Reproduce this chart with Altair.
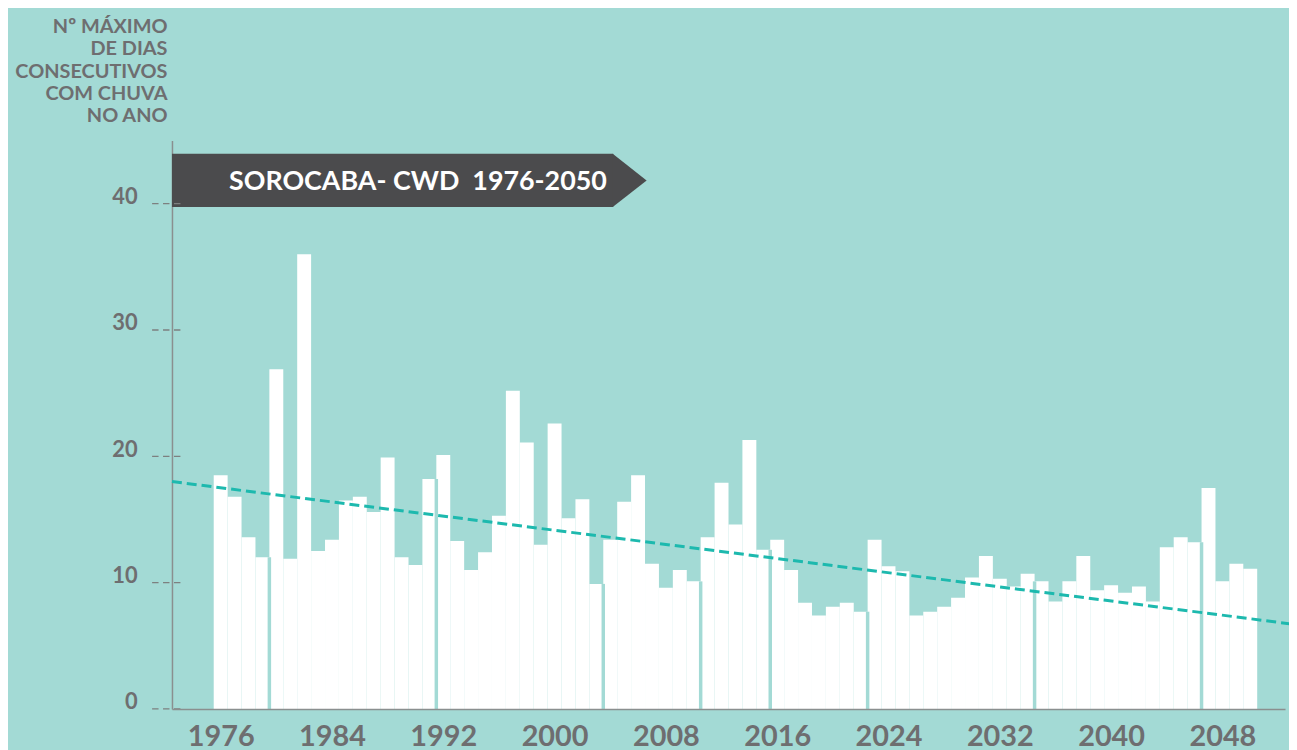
import altair as alt
import pandas as pd

# ---------------- data ----------------
years = list(range(1976, 2051))
cwd_days = [18.5, 16.8, 13.6, 12.0, 26.9, 11.9, 36.0, 12.5, 13.4, 16.5,
            16.8, 15.6, 19.9, 12.0, 11.4, 18.2, 20.1, 13.3, 11.0, 12.4,
            15.3, 25.2, 21.1, 13.0, 22.6, 15.1, 16.6, 9.9, 13.4, 16.4,
            18.5, 11.5, 9.6, 11.0, 10.1, 13.6, 17.9, 14.6, 21.3, 12.6,
            13.4, 11.0, 8.4, 7.4, 8.1, 8.4, 7.7, 13.4, 11.3, 10.9,
            7.4, 7.7, 8.1, 8.8, 10.4, 12.1, 10.3, 9.7, 10.7, 10.1,
            8.5, 10.1, 12.1, 9.4, 9.8, 9.2, 9.7, 8.5, 12.8, 13.6,
            13.2, 17.5, 10.1, 11.5, 11.1]
# thin separators visible between some bars in the reference
gap_after_years = [1979, 1991, 2003, 2010, 2015, 2022, 2034, 2046]
# dashed linear trend (end points)
trend_years = [1972.5, 2052.8]
trend_values = [18.0, 6.75]
y_tick_values = [0, 10, 20, 30, 40]
x_tick_values = [1976, 1984, 1992, 2000, 2008, 2016, 2024, 2032, 2040, 2048]
banner_text = "SOROCABA- CWD\u00a0 1976-2050"
y_title_lines = ["Nº MÁXIMO", "DE DIAS", "CONSECUTIVOS", "COM CHUVA", "NO ANO"]

# ---------------- styling ----------------
BG = "#a3dad5"
GRAY_TEXT = "#6e6e70"
AXIS_GRAY = "#8a8f8f"
TREND = "#1db9ae"
BANNER = "#4b4b4d"
FONT = "Lato"

df = pd.DataFrame({"year": years, "cwd": cwd_days})
df["x0"] = df["year"] - 0.5
df["x1"] = df["year"] + 0.5

lookup = dict(zip(years, cwd_days))
gaps = pd.DataFrame({
    "x0": [g + 0.5 for g in gap_after_years],
    "cwd": [min(lookup[g], lookup[g + 1]) for g in gap_after_years],
})
trend = pd.DataFrame({"x0": trend_years, "cwd": trend_values})
ticks = pd.DataFrame({"cwd": y_tick_values})
one = pd.DataFrame({"k": [0]})

xs = alt.Scale(domain=[1972.5, 2052.5], nice=False, zero=False)
ys = alt.Scale(domain=[0, 45], nice=False)

x_axis = alt.Axis(values=x_tick_values, format="d", title=None,
                  ticks=False, grid=False, domain=True,
                  domainColor=AXIS_GRAY, domainWidth=1.5,
                  labelFont=FONT, labelFontWeight="bold",
                  labelFontSize=29, labelColor=GRAY_TEXT,
                  labelPadding=14, labelFlush=False, zindex=1)
y_axis = alt.Axis(values=y_tick_values, ticks=False, grid=False,
                  domain=True, domainColor=AXIS_GRAY, domainWidth=1.5,
                  labelFont=FONT, labelFontWeight="bold",
                  labelFontSize=22, labelColor=GRAY_TEXT,
                  labelPadding=35, labelBaseline="alphabetic",
                  labelOffset=0,
                  title=y_title_lines, titleAngle=0,
                  titleAlign="right", titleBaseline="alphabetic",
                  titleX=-5, titleY=-108.5, titleLineHeight=22.4,
                  titleFont=FONT, titleFontWeight="bold",
                  titleFontSize=20, titleColor=GRAY_TEXT, zindex=0)

X = alt.X("x0:Q", scale=xs, axis=x_axis)
Y = alt.Y("cwd:Q", scale=ys, axis=y_axis)

bars = alt.Chart(df).mark_rect(color="white").encode(
    x=X, x2="x1:Q", y=Y, y2=alt.datum(0),
)

gap_rules = alt.Chart(gaps).mark_rule(color=BG, strokeWidth=3.5).encode(
    x=X, y=Y, y2=alt.datum(0),
)

trend_line = alt.Chart(trend).mark_line(
    color=TREND, strokeWidth=3, strokeDash=[10, 5]
).encode(x=X, y=Y)

banner_rect = alt.Chart(one).mark_rect(color=BANNER).encode(
    x=alt.value(0), x2=alt.value(444), y=alt.value(13.3), y2=alt.value(67)
)
banner_tip = alt.Chart(one).mark_point(
    shape="M0,-1L1.27,0L0,1Z", filled=True, color=BANNER, opacity=1,
    strokeWidth=0, size=2884
).encode(x=alt.value(443.5), y=alt.value(40.15))
banner_label = alt.Chart(one).mark_text(
    text=banner_text, font=FONT, fontWeight="bold", fontSize=27,
    color="white", align="center", baseline="alphabetic"
).encode(x=alt.value(247.5), y=alt.value(50.3))

tick_rules = alt.Chart(ticks).mark_rule(
    color="#7d8080", strokeWidth=1.3, strokeDash=[6.5, 4.5]
).encode(
    y=Y, x=alt.value(-20), x2=alt.value(10),
)

chart = alt.layer(
    bars, gap_rules, trend_line, banner_rect, banner_tip, banner_label, tick_rules
).properties(
    width=1120, height=572,
    autosize=alt.AutoSizeParams(type="none"),
    padding={"left": 165, "top": 131, "right": 4, "bottom": 45},
    background=BG,
).configure_view(stroke=None)

chart.save("out.html", embed_options={"renderer": "svg", "actions": False})
